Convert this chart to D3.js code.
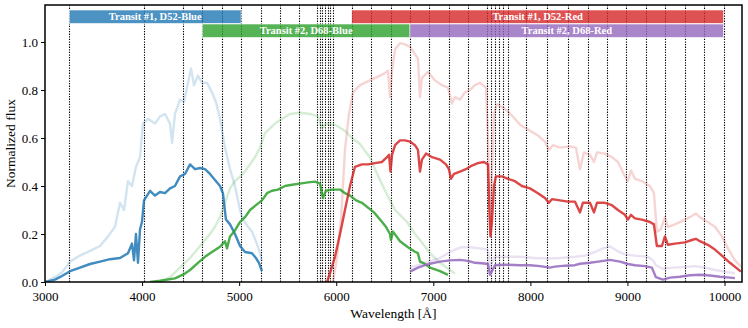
<!DOCTYPE html>
<html>
<head>
<meta charset="utf-8">
<script src="https://cdnjs.cloudflare.com/ajax/libs/d3/7.8.5/d3.min.js"></script>
<style>
	body { margin: 0; background: #fff; }
	svg text { font-family: "Liberation Serif", "Times New Roman", Times, "DejaVu Serif", serif !important; }
</style>
</head>
<body>
<script>
// wavelength [A], normalized flux
var blueT1 = [[3000,0],[3103,0.01],[3175,0.025],[3258,0.045],[3361,0.06],[3464,0.075],[3567,0.085],[3670,0.095],[3773,0.10],[3855,0.12],[3896,0.16],[3917,0.09],[3937,0.2],[3958,0.08],[3979,0.22],[3999,0.25],[4020,0.34],[4082,0.38],[4133,0.36],[4185,0.375],[4236,0.37],[4288,0.39],[4339,0.40],[4391,0.44],[4442,0.45],[4494,0.49],[4545,0.47],[4597,0.475],[4648,0.47],[4700,0.45],[4751,0.425],[4803,0.40],[4833,0.37],[4864,0.26],[4906,0.24],[4957,0.2],[5009,0.15],[5060,0.125],[5132,0.12],[5173,0.10],[5204,0.08],[5235,0.045]];
var blueRef = [[3000,0],[3103,0.02],[3175,0.04],[3258,0.085],[3361,0.11],[3464,0.13],[3567,0.15],[3649,0.19],[3721,0.23],[3773,0.33],[3814,0.30],[3855,0.42],[3896,0.40],[3937,0.48],[3979,0.52],[4009,0.66],[4061,0.68],[4133,0.66],[4185,0.69],[4236,0.70],[4288,0.66],[4309,0.58],[4339,0.70],[4391,0.76],[4432,0.75],[4473,0.83],[4504,0.89],[4535,0.82],[4576,0.86],[4617,0.83],[4669,0.83],[4720,0.79],[4761,0.75],[4803,0.68],[4854,0.56],[4906,0.47],[4957,0.40],[5009,0.30],[5039,0.26],[5091,0.23],[5132,0.21],[5173,0.17],[5215,0.12],[5235,0.085]];
var greenT2 = [[4082,0],[4185,0.005],[4339,0.015],[4442,0.035],[4494,0.05],[4576,0.08],[4648,0.105],[4720,0.125],[4803,0.147],[4854,0.17],[4875,0.14],[4906,0.19],[4957,0.215],[5009,0.25],[5060,0.27],[5112,0.30],[5173,0.32],[5235,0.34],[5287,0.37],[5338,0.38],[5400,0.385],[5472,0.40],[5544,0.405],[5627,0.41],[5709,0.415],[5781,0.418],[5833,0.41],[5863,0.35],[5894,0.38],[5956,0.385],[6039,0.385],[6090,0.37],[6142,0.36],[6204,0.34],[6265,0.33],[6327,0.31],[6389,0.29],[6451,0.26],[6512,0.23],[6554,0.20],[6564,0.175],[6585,0.21],[6657,0.17],[6739,0.145],[6811,0.126],[6842,0.12],[6863,0.085],[6894,0.08],[6966,0.06],[7069,0.045],[7151,0.03]];
var greenRef = [[4185,0],[4288,0.02],[4391,0.06],[4494,0.10],[4576,0.14],[4648,0.175],[4700,0.2],[4751,0.23],[4803,0.27],[4854,0.33],[4906,0.39],[4957,0.42],[5039,0.45],[5112,0.49],[5163,0.52],[5215,0.56],[5266,0.62],[5318,0.64],[5369,0.66],[5441,0.68],[5523,0.70],[5627,0.705],[5730,0.70],[5812,0.69],[5853,0.64],[5894,0.66],[5987,0.655],[6090,0.63],[6162,0.60],[6245,0.575],[6307,0.54],[6348,0.52],[6400,0.47],[6451,0.425],[6503,0.38],[6554,0.34],[6606,0.30],[6657,0.28],[6729,0.25],[6811,0.20],[6863,0.175],[6966,0.12],[7069,0.08],[7171,0.05],[7223,0.035]];
var redT1 = [[5905,0],[5946,0.05],[5987,0.105],[6039,0.2],[6090,0.30],[6142,0.40],[6193,0.48],[6265,0.49],[6327,0.49],[6399,0.495],[6471,0.50],[6523,0.52],[6544,0.53],[6559,0.46],[6575,0.53],[6606,0.57],[6657,0.59],[6708,0.59],[6760,0.585],[6811,0.57],[6842,0.55],[6863,0.46],[6883,0.51],[6925,0.535],[6987,0.52],[7069,0.51],[7130,0.49],[7161,0.47],[7182,0.43],[7213,0.45],[7275,0.46],[7336,0.47],[7398,0.485],[7460,0.495],[7522,0.50],[7563,0.49],[7578,0.30],[7589,0.19],[7604,0.25],[7625,0.40],[7645,0.44],[7707,0.44],[7769,0.43],[7841,0.42],[7913,0.40],[7996,0.39],[8078,0.37],[8150,0.35],[8191,0.33],[8222,0.345],[8305,0.34],[8387,0.335],[8459,0.335],[8511,0.29],[8541,0.33],[8614,0.33],[8655,0.29],[8686,0.33],[8768,0.33],[8840,0.32],[8902,0.30],[8974,0.28],[9005,0.26],[9036,0.28],[9077,0.265],[9149,0.26],[9232,0.25],[9273,0.24],[9303,0.15],[9355,0.15],[9386,0.19],[9417,0.155],[9489,0.16],[9592,0.165],[9664,0.175],[9705,0.18],[9746,0.17],[9828,0.155],[9901,0.135],[9973,0.11],[10056,0.08],[10118,0.06],[10169,0.043]];
var redRef = [[5966,0],[6008,0.1],[6049,0.26],[6090,0.55],[6131,0.70],[6173,0.79],[6245,0.82],[6348,0.84],[6451,0.86],[6503,0.87],[6533,0.88],[6554,0.77],[6575,0.88],[6606,0.97],[6657,0.995],[6708,0.99],[6760,0.98],[6811,0.95],[6842,0.93],[6863,0.77],[6883,0.85],[6945,0.875],[7017,0.84],[7089,0.82],[7151,0.81],[7192,0.745],[7223,0.77],[7275,0.76],[7326,0.79],[7378,0.80],[7429,0.82],[7481,0.83],[7543,0.81],[7563,0.60],[7589,0.19],[7604,0.45],[7625,0.70],[7656,0.74],[7707,0.73],[7769,0.71],[7841,0.68],[7893,0.655],[7996,0.63],[8078,0.61],[8150,0.585],[8191,0.55],[8232,0.57],[8305,0.56],[8408,0.565],[8469,0.56],[8511,0.47],[8552,0.54],[8614,0.53],[8655,0.50],[8686,0.54],[8768,0.535],[8840,0.52],[8902,0.50],[8974,0.44],[9005,0.42],[9036,0.465],[9077,0.43],[9149,0.42],[9232,0.40],[9273,0.37],[9303,0.21],[9345,0.22],[9386,0.27],[9417,0.23],[9489,0.24],[9592,0.26],[9664,0.275],[9705,0.285],[9746,0.27],[9828,0.25],[9901,0.23],[9973,0.19],[10035,0.14],[10107,0.09],[10169,0.064]];
var purpleT2 = [[6760,0.043],[6842,0.06],[6914,0.07],[6987,0.078],[7069,0.085],[7172,0.09],[7275,0.092],[7357,0.088],[7429,0.08],[7501,0.078],[7563,0.075],[7584,0.03],[7604,0.045],[7635,0.07],[7738,0.072],[7893,0.07],[7996,0.07],[8099,0.066],[8202,0.06],[8253,0.064],[8356,0.068],[8459,0.07],[8511,0.076],[8614,0.08],[8717,0.086],[8820,0.092],[8923,0.085],[9005,0.075],[9077,0.07],[9180,0.066],[9252,0.06],[9293,0.02],[9365,0.01],[9438,0.018],[9541,0.022],[9644,0.028],[9746,0.03],[9850,0.027],[9953,0.022],[10056,0.018],[10107,0.016]];
var purpleRef = [[6760,0.06],[6842,0.07],[6914,0.08],[6987,0.09],[7069,0.10],[7151,0.12],[7223,0.135],[7295,0.145],[7378,0.145],[7481,0.14],[7563,0.135],[7584,0.05],[7604,0.08],[7635,0.105],[7738,0.105],[7893,0.105],[8047,0.10],[8181,0.098],[8305,0.10],[8459,0.105],[8562,0.11],[8665,0.125],[8747,0.14],[8820,0.148],[8892,0.13],[8974,0.115],[9077,0.11],[9211,0.105],[9263,0.09],[9293,0.07],[9365,0.055],[9458,0.06],[9561,0.062],[9695,0.066],[9798,0.06],[9901,0.05],[10004,0.043],[10107,0.036]];

// bin edges drawn as dotted lines
var binEdges = [3250, 4020, 4420, 4620, 4820, 5020, 5220, 5420, 5620,
	5800, 5828, 5856, 5884, 5912, 5940, 5968,
	6160, 6360, 6560, 6760, 6960, 7160, 7360,
	7550, 7595, 7637, 7680, 7722, 7765,
	7960, 8170, 8390, 8590, 8790, 8990, 9190, 9390, 9590, 9790, 9990];

// observing setups: label, start, end, row
var setupLabels = ['Transit #1, D52-Blue', 'Transit #2, D68-Blue', 'Transit #1, D52-Red', 'Transit #2, D68-Red'];
var setupStart = [3250, 4620, 6160, 6760];
var setupEnd = [5020, 6760, 9990, 9990];
var setupRow = [0, 1, 0, 1];

var xTicks = [3000, 4000, 5000, 6000, 7000, 8000, 9000, 10000];
var yTicks = [0, 0.2, 0.4, 0.6, 0.8, 1.0];

var colors = ['#1f77b4', '#2ca02c', '#d62728', '#9467bd'];

var width = 748, height = 328;
var margin = {top: 5, right: 6, bottom: 46, left: 45};
var serif = '"Liberation Serif", "Times New Roman", Times, "DejaVu Serif", serif';

var x = d3.scaleLinear()
	.domain([3000, 10180])
	.range([margin.left, width - margin.right]);

var y = d3.scaleLinear()
	.domain([0, 1.154])
	.range([height - margin.bottom, margin.top]);

var svg = d3.select('body')
	.append('svg')
	.attr('width', width)
	.attr('height', height)
	.attr('font-family', serif);

svg.append('defs').append('clipPath')
	.attr('id', 'plot')
	.append('rect')
	.attr('x', margin.left)
	.attr('y', margin.top)
	.attr('width', width - margin.left - margin.right)
	.attr('height', height - margin.top - margin.bottom);

// dotted bin edges
svg.selectAll('.edge')
	.data(binEdges)
	.enter()
	.append('line')
	.attr('class', 'edge')
	.attr('x1', function(d) { return Math.round(x(d)) + 0.5; })
	.attr('x2', function(d) { return Math.round(x(d)) + 0.5; })
	.attr('y1', margin.top)
	.attr('y2', height - margin.bottom)
	.attr('stroke', '#000')
	.attr('stroke-width', 1.1)
	.attr('stroke-dasharray', '1.3,1.3');

var line = d3.line()
	.x(function(d) { return x(d[0]); })
	.y(function(d) { return y(d[1]); });

var plot = svg.append('g').attr('clip-path', 'url(#plot)');

var lightSeries = [blueRef, greenRef, redRef, purpleRef];
var darkSeries = [blueT1, greenT2, redT1, purpleT2];

plot.selectAll('.light')
	.data(lightSeries)
	.enter()
	.append('path')
	.attr('class', 'light')
	.attr('d', line)
	.attr('fill', 'none')
	.attr('stroke', function(d, i) { return colors[i]; })
	.attr('stroke-opacity', 0.2)
	.attr('stroke-width', 2.4)
	.attr('stroke-linejoin', 'round');

plot.selectAll('.dark')
	.data(darkSeries)
	.enter()
	.append('path')
	.attr('class', 'dark')
	.attr('d', line)
	.attr('fill', 'none')
	.attr('stroke', function(d, i) { return colors[i]; })
	.attr('stroke-opacity', 0.85)
	.attr('stroke-width', 2.4)
	.attr('stroke-linejoin', 'round');

// setup bars
var barTop = [10, 24];
var barH = 13.5;

var bars = svg.selectAll('.setup')
	.data(setupLabels)
	.enter()
	.append('g')
	.attr('class', 'setup');

bars.append('rect')
	.attr('x', function(d, i) { return x(setupStart[i]); })
	.attr('y', function(d, i) { return barTop[setupRow[i]]; })
	.attr('width', function(d, i) { return x(setupEnd[i]) - x(setupStart[i]); })
	.attr('height', barH)
	.attr('fill', function(d, i) { return colors[i]; })
	.attr('fill-opacity', 0.8)
	.attr('stroke', '#fff')
	.attr('stroke-width', 0.6);

bars.append('text')
	.text(function(d) { return d; })
	.attr('x', function(d, i) { return (x(setupStart[i]) + x(setupEnd[i])) / 2; })
	.attr('y', function(d, i) { return barTop[setupRow[i]] + barH / 2 + 3.5; })
	.attr('text-anchor', 'middle')
	.attr('fill', '#fff')
	.attr('font-weight', 'bold')
	.attr('font-size', '10.5px');

// axes
var xAxis = d3.axisBottom(x)
	.tickValues(xTicks)
	.tickSize(4)
	.tickFormat(d3.format('d'));

var yAxis = d3.axisLeft(y)
	.tickValues(yTicks)
	.tickSize(4)
	.tickFormat(d3.format('.1f'));

var gx = svg.append('g')
	.attr('transform', 'translate(0,' + (height - margin.bottom) + ')')
	.call(xAxis);

var gy = svg.append('g')
	.attr('transform', 'translate(' + margin.left + ',0)')
	.call(yAxis);

[gx, gy].forEach(function(g) {
	g.attr('font-family', serif).attr('font-size', 13);
	g.select('.domain').remove();
	g.selectAll('.tick line').attr('stroke', '#000').attr('stroke-width', 1);
	g.selectAll('.tick text').attr('fill', '#000');
});

gx.selectAll('.tick text').attr('dy', '0.95em');

svg.append('rect')
	.attr('x', margin.left)
	.attr('y', margin.top)
	.attr('width', width - margin.left - margin.right)
	.attr('height', height - margin.top - margin.bottom)
	.attr('fill', 'none')
	.attr('stroke', '#000')
	.attr('stroke-width', 1.5);

svg.append('text')
	.text('Wavelength [Å]')
	.attr('x', (margin.left + width - margin.right) / 2)
	.attr('y', 318)
	.attr('text-anchor', 'middle')
	.attr('font-size', '13.5px');

svg.append('text')
	.text('Normalized flux')
	.attr('transform', 'translate(15,' + ((margin.top + height - margin.bottom) / 2) + ') rotate(-90)')
	.attr('text-anchor', 'middle')
	.attr('font-size', '13.5px');
</script>
</body>
</html>
